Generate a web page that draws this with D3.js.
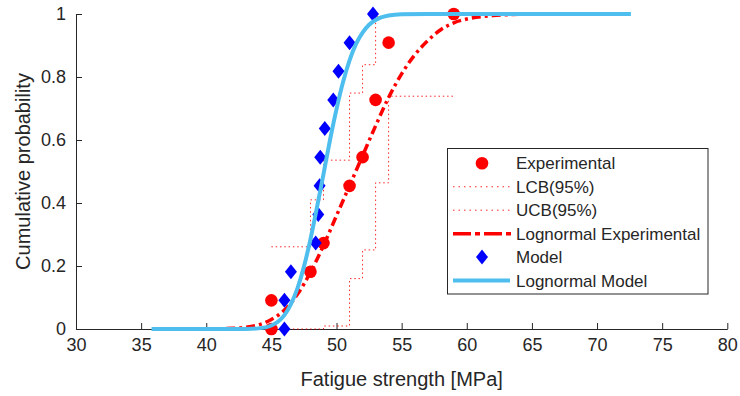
<!DOCTYPE html>
<html><head><meta charset="utf-8">
<script src="https://cdn.jsdelivr.net/npm/d3@7"></script>
<style>
html,body{margin:0;padding:0;background:#fff;}
svg{display:block;font-family:Arial,"Liberation Sans",Helvetica,sans-serif;}
</style></head>
<body>
<svg id="chart" width="740" height="396"></svg>
<script>
// ---- data ----
const xTicks = [30, 35, 40, 45, 50, 55, 60, 65, 70, 75, 80];
const yTicks = [0, 0.2, 0.4, 0.6, 0.8, 1];
const yTickLabels = ["0", "0.2", "0.4", "0.6", "0.8", "1"];

const expX = [45, 45, 48, 49, 51, 52, 53, 54, 59];
const expY = [0, 0.0909, 0.1818, 0.2727, 0.4545, 0.5455, 0.7273, 0.9091, 1.0];

const stairX = [45, 48, 49, 51, 52, 53, 54, 59];
const lcbY = [0, 0, 0.0095, 0.160, 0.251, 0.464, 0.739];
const ucbY = [0.261, 0.410, 0.536, 0.749, 0.839, 0.991, 1.0];

const logExpX = [40, 42, 43, 44, 45, 46, 47, 48, 49, 50, 51, 52, 53, 54, 55, 56, 57, 58, 59, 60, 62, 64, 66, 68, 72.6];
const logExpY = [0.0002, 0.002, 0.005, 0.013, 0.03, 0.06, 0.11, 0.18, 0.265, 0.36, 0.455, 0.55, 0.645, 0.735, 0.81, 0.87, 0.915, 0.95, 0.972, 0.984, 0.995, 0.999, 1, 1, 1];

const modelX = [46, 46, 46.5, 48.4, 48.6, 48.7, 48.75, 49.1, 49.75, 50.15, 51, 52.8];
const modelY = [0, 0.0909, 0.1818, 0.2727, 0.3636, 0.4545, 0.5455, 0.6364, 0.7273, 0.8182, 0.9091, 1.0];

const logModelX = [35.8, 40, 42, 43, 44, 45, 45.5, 46, 46.5, 47, 47.5, 48, 48.5, 49, 49.5, 50, 50.5, 51, 51.5, 52, 52.5, 53, 54, 55, 57, 60, 65, 72.6];
const logModelY = [0, 0, 0.00002, 0.0002, 0.002, 0.011, 0.023, 0.044, 0.079, 0.129, 0.198, 0.285, 0.386, 0.492, 0.600, 0.698, 0.784, 0.853, 0.905, 0.941, 0.966, 0.981, 0.995, 0.999, 1, 1, 1, 1];

const legendLabels = ["Experimental", "LCB(95%)", "UCB(95%)", "Lognormal Experimental", "Model", "Lognormal Model"];

// ---- layout ----
const svg = d3.select("#chart");
const axisColor = "#262626";
const x = d3.scaleLinear().domain([30, 80]).range([76, 727.3]);
const y = d3.scaleLinear().domain([0, 1]).range([329, 14]);

const RED = "#ff0000", BLUE = "#0000ff", LBLUE = "#4dbeee";

const zip = (a, b) => a.map((v, i) => [v, b[i]]);
const stairPts = vals => stairX.map((xv, i) => [xv, vals[Math.min(i, vals.length - 1)]]);

const line = d3.line().x(d => x(d[0])).y(d => y(d[1]));
const smooth = d3.line().x(d => x(d[0])).y(d => y(d[1])).curve(d3.curveMonotoneX);
const stair = d3.line().x(d => x(d[0])).y(d => y(d[1])).curve(d3.curveStepAfter);

const diamond = (cx, cy) => `M${cx},${cy - 7.5}L${cx + 6},${cy}L${cx},${cy + 7.5}L${cx - 6},${cy}Z`;

// axes
const xAxis = d3.axisBottom(x).tickValues(xTicks).tickSizeInner(-6).tickSizeOuter(0).tickPadding(9);
const yAxis = d3.axisLeft(y).tickValues(yTicks).tickFormat((d, i) => yTickLabels[i]).tickSizeInner(-6).tickSizeOuter(0).tickPadding(10);

const gx = svg.append("g").attr("transform", "translate(0,329)").call(xAxis);
const gy = svg.append("g").attr("transform", "translate(76,0)").call(yAxis);
[gx, gy].forEach(g => {
  g.select(".domain").attr("stroke", axisColor).attr("stroke-width", 1);
  g.selectAll(".tick line").attr("stroke", axisColor);
  g.selectAll(".tick text").attr("fill", axisColor).attr("font-size", 18).attr("font-family", "Arial, 'Liberation Sans', sans-serif");
});

// axis labels
svg.append("text").attr("x", x(55)).attr("y", 386).attr("text-anchor", "middle")
  .attr("font-size", 20).attr("fill", axisColor).text("Fatigue strength [MPa]");
svg.append("text").attr("transform", `translate(30,${y(0.5)}) rotate(-90)`).attr("text-anchor", "middle")
  .attr("font-size", 20).attr("fill", axisColor).text("Cumulative probability");

const plot = svg.append("g");

// experimental points
plot.selectAll("circle.exp").data(zip(expX, expY)).enter().append("circle")
  .attr("class", "exp").attr("cx", d => x(d[0])).attr("cy", d => y(d[1])).attr("r", 6.3).attr("fill", RED);

// LCB / UCB
plot.append("path").attr("d", stair(stairPts(lcbY))).attr("fill", "none").attr("stroke", RED)
  .attr("stroke-width", 1).attr("stroke-dasharray", "1.5,2.8").attr("opacity", 0.85);
plot.append("path").attr("d", stair(stairPts(ucbY))).attr("fill", "none").attr("stroke", RED)
  .attr("stroke-width", 1).attr("stroke-dasharray", "1.5,2.8").attr("opacity", 0.85);

// lognormal experimental
plot.append("path").attr("d", smooth(zip(logExpX, logExpY))).attr("fill", "none").attr("stroke", RED)
  .attr("stroke-width", 3.5).attr("stroke-dasharray", "9,4,3,4");

// model points
plot.selectAll("path.model").data(zip(modelX, modelY)).enter().append("path")
  .attr("class", "model").attr("d", d => diamond(x(d[0]), y(d[1]))).attr("fill", BLUE);

// lognormal model
plot.append("path").attr("d", smooth(zip(logModelX, logModelY))).attr("fill", "none").attr("stroke", LBLUE)
  .attr("stroke-width", 4);

// legend
const lg = svg.append("g");
lg.append("rect").attr("x", 447.5).attr("y", 148.5).attr("width", 260.5).attr("height", 145.5)
  .attr("fill", "#fff").attr("stroke", axisColor).attr("stroke-width", 1);
const rowY = i => 163.3 + i * 23.45;
const x0 = 453, x1 = 510, xm = 482;
legendLabels.forEach((lab, i) => {
  lg.append("text").attr("x", 516).attr("y", rowY(i)).attr("dy", "0.36em").attr("font-size", 17)
    .attr("fill", axisColor).text(lab);
});
lg.append("circle").attr("cx", xm).attr("cy", rowY(0)).attr("r", 6.3).attr("fill", RED);
[1, 2].forEach(i => lg.append("path").attr("d", line([[x.invert(x0), y.invert(rowY(i))], [x.invert(x1), y.invert(rowY(i))]]))
  .attr("stroke", RED).attr("stroke-width", 1).attr("stroke-dasharray", "1.5,4").attr("opacity", 0.85));
lg.append("path").attr("d", line([[x.invert(x0), y.invert(rowY(3))], [x.invert(x1 + 1), y.invert(rowY(3))]]))
  .attr("stroke", RED).attr("stroke-width", 3.5).attr("stroke-dasharray", "18,4,5,4");
lg.append("path").attr("d", diamond(xm, rowY(4))).attr("fill", BLUE);
lg.append("path").attr("d", line([[x.invert(x0), y.invert(rowY(5))], [x.invert(x1), y.invert(rowY(5))]]))
  .attr("stroke", LBLUE).attr("stroke-width", 4);
</script>
</body></html>
